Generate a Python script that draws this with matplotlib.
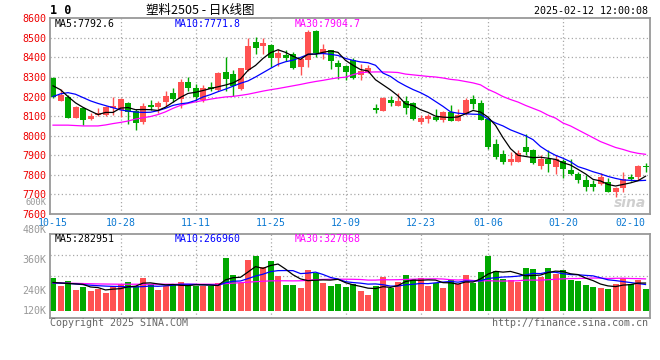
import numpy as np
import matplotlib
matplotlib.use("Agg")
import matplotlib.pyplot as plt

# ---- daily K-line data, 2024-10-15 .. 2025-02-12 (80 sessions) ----
open_ = [8296, 8178, 8200, 8090, 8141, 8087, 8105, 8107, 8140, 8132,
         8167, 8128, 8068, 8158, 8148, 8174, 8216, 8187, 8274, 8243,
         8185, 8250, 8235, 8325, 8315, 8238, 8336, 8477, 8460, 8463,
         8398, 8415, 8416, 8352, 8388, 8534, 8420, 8437, 8372, 8357,
         8386, 8308, 8325, 8143, 8128, 8182, 8153, 8177, 8168, 8071,
         8087, 8094, 8082, 8123, 8075, 8111, 8190, 8167, 8085, 7957,
         7906, 7868, 7867, 7940, 7927, 7847, 7881, 7842, 7871, 7826,
         7804, 7772, 7753, 7753, 7762, 7711, 7735, 7787, 7791, 7847]
high = [8300, 8240, 8210, 8153, 8145, 8115, 8140, 8150, 8197, 8195,
        8170, 8135, 8168, 8180, 8177, 8226, 8242, 8292, 8298, 8262,
        8260, 8275, 8325, 8403, 8335, 8348, 8500, 8505, 8500, 8468,
        8442, 8437, 8428, 8403, 8538, 8542, 8470, 8440, 8385, 8360,
        8398, 8368, 8360, 8162, 8198, 8204, 8220, 8203, 8170, 8105,
        8110, 8136, 8127, 8157, 8137, 8194, 8208, 8182, 8088, 7983,
        7927, 7915, 7927, 8008, 7932, 7901, 7927, 7901, 7882, 7881,
        7813, 7799, 7774, 7808, 7782, 7740, 7817, 7805, 7850, 7862]
low = [8195, 8175, 8088, 8088, 8057, 8080, 8100, 8100, 8105, 8098,
       8060, 8027, 8062, 8133, 8115, 8150, 8170, 8140, 8230, 8170,
       8172, 8228, 8230, 8228, 8203, 8234, 8332, 8418, 8420, 8352,
       8355, 8383, 8340, 8310, 8352, 8400, 8390, 8340, 8290, 8285,
       8290, 8285, 8320, 8115, 8126, 8153, 8150, 8110, 8078, 8058,
       8063, 8075, 8068, 8075, 8073, 8105, 8135, 8078, 7932, 7881,
       7855, 7850, 7864, 7900, 7855, 7830, 7816, 7806, 7782, 7799,
       7760, 7720, 7720, 7748, 7711, 7689, 7714, 7768, 7774, 7813]
close = [8199, 8209, 8090, 8149, 8078, 8103, 8118, 8146, 8150, 8187,
         8120, 8063, 8150, 8145, 8168, 8204, 8188, 8275, 8245, 8200,
         8245, 8238, 8322, 8292, 8252, 8345, 8458, 8447, 8473, 8395,
         8422, 8395, 8346, 8390, 8530, 8422, 8442, 8382, 8353, 8327,
         8296, 8330, 8348, 8130, 8195, 8168, 8177, 8143, 8087, 8090,
         8100, 8080, 8119, 8076, 8105, 8182, 8162, 8082, 7944, 7893,
         7868, 7881, 7913, 7915, 7862, 7881, 7854, 7881, 7830, 7804,
         7772, 7740, 7740, 7787, 7714, 7735, 7779, 7779, 7845, 7840]

# moving averages as drawn on the chart
ma5 = [8255, 8235, 8200, 8168, 8145, 8126, 8108, 8119, 8119, 8141,
       8144, 8133, 8134, 8133, 8129, 8146, 8171, 8196, 8216, 8222,
       8231, 8241, 8250, 8259, 8270, 8290, 8334, 8359, 8395, 8424,
       8439, 8426, 8406, 8390, 8417, 8417, 8426, 8433, 8426, 8385,
       8360, 8338, 8331, 8286, 8260, 8234, 8204, 8163, 8154, 8133,
       8119, 8100, 8095, 8093, 8096, 8112, 8129, 8121, 8095, 8053,
       7990, 7934, 7900, 7894, 7888, 7890, 7885, 7879, 7862, 7850,
       7828, 7805, 7777, 7769, 7751, 7743, 7751, 7759, 7770, 7793]
ma10 = [8200, 8214, 8220, 8212, 8195, 8178, 8165, 8154, 8143, 8132,
        8126, 8121, 8119, 8120, 8128, 8140, 8155, 8163, 8168, 8180,
        8198, 8210, 8225, 8238, 8253, 8268, 8280, 8300, 8322, 8344,
        8365, 8378, 8386, 8400, 8415, 8418, 8420, 8416, 8410, 8395,
        8385, 8377, 8373, 8360, 8320, 8303, 8276, 8255, 8236, 8220,
        8200, 8175, 8150, 8122, 8115, 8112, 8110, 8109, 8085, 8065,
        8050, 8030, 8015, 8000, 7980, 7945, 7920, 7900, 7885, 7867,
        7842, 7830, 7816, 7805, 7792, 7782, 7774, 7772, 7770, 7772]
ma30 = [8054, 8054, 8054, 8052, 8050, 8050, 8050, 8055, 8062, 8068,
        8075, 8085, 8092, 8098, 8108, 8122, 8140, 8155, 8165, 8173,
        8180, 8187, 8193, 8198, 8201, 8206, 8212, 8220, 8228, 8235,
        8241, 8248, 8255, 8262, 8270, 8277, 8283, 8290, 8296, 8299,
        8312, 8322, 8325, 8326, 8326, 8325, 8323, 8315, 8311, 8307,
        8303, 8300, 8295, 8288, 8284, 8277, 8270, 8260, 8237, 8220,
        8200, 8185, 8172, 8155, 8140, 8125, 8105, 8090, 8065, 8050,
        8030, 8010, 7990, 7970, 7955, 7940, 7930, 7918, 7910, 7905]

# volume, thousands of lots
volume = [338, 254, 305, 213, 247, 203, 220, 186, 254, 271,
          297, 254, 338, 271, 213, 254, 271, 297, 254, 254,
          254, 254, 281, 535, 365, 281, 518, 558, 444, 508,
          358, 264, 264, 237, 416, 383, 281, 254, 274, 247,
          274, 203, 162, 254, 342, 237, 297, 365, 325, 338,
          254, 287, 237, 315, 271, 365, 281, 399, 561, 409,
          325, 315, 297, 440, 426, 348, 440, 373, 416, 315,
          305, 264, 247, 237, 223, 271, 338, 271, 315, 223]
vma5 = [290, 285, 280, 275, 271, 244, 238, 214, 222, 227,
        246, 252, 283, 286, 275, 266, 269, 261, 258, 266,
        266, 263, 259, 316, 338, 343, 396, 451, 433, 462,
        477, 426, 368, 326, 308, 313, 316, 314, 322, 288,
        266, 250, 232, 228, 247, 240, 258, 299, 313, 312,
        316, 314, 288, 286, 273, 295, 294, 326, 375, 403,
        395, 402, 381, 357, 361, 365, 390, 405, 401, 378,
        370, 335, 309, 274, 255, 248, 263, 268, 284, 284]
vma10 = [285, 283, 280, 275, 268, 262, 257, 253, 250, 249,
         245, 245, 248, 254, 251, 256, 261, 272, 272, 270,
         266, 266, 260, 287, 302, 305, 329, 355, 374, 400,
         410, 411, 410, 380, 385, 395, 371, 341, 324, 298,
         289, 283, 273, 275, 267, 253, 254, 266, 271, 280,
         278, 286, 294, 300, 293, 305, 304, 307, 331, 338,
         345, 348, 354, 366, 382, 380, 396, 393, 379, 370,
         368, 362, 357, 337, 317, 309, 299, 289, 279, 269]
vma30 = [285, 284, 283, 281, 279, 277, 275, 274, 273, 272,
         272, 272, 272, 272, 272, 272, 272, 272, 272, 272,
         272, 272, 272, 278, 283, 288, 293, 298, 302, 306,
         307, 307, 306, 307, 312, 318, 321, 323, 323, 323,
         322, 320, 314, 314, 318, 317, 318, 321, 323, 326,
         326, 327, 325, 318, 315, 318, 310, 305, 308, 305,
         304, 306, 307, 314, 314, 313, 318, 322, 327, 329,
         330, 332, 335, 334, 330, 332, 333, 330, 329, 326]

date_labels = ['10-15', '10-28', '11-11', '11-25', '12-09',
               '12-23', '01-06', '01-20', '02-10']
date_pos = [0, 9, 19, 29, 39, 49, 58, 68, 77]
price_ticks = [7600, 7700, 7800, 7900, 8000, 8100, 8200, 8300, 8400, 8500, 8600]
vol_labels = ['600K', '480K', '360K', '240K', '120K']
vol_label_y = [202.6, 230, 260, 291, 311]   # where sina prints them (px)

RED = '#ff5252'
GREEN = '#00a800'
GRID = '#a8a8a8'
BORDER = '#999999'
MONO = 'DejaVu Sans Mono'

W, H = 660, 360


def fx(px):
    return px / W


def fy(py):
    return 1 - py / H


fig = plt.figure(figsize=(6.6, 3.6), dpi=100)
fig.patch.set_facecolor('white')

ax = fig.add_axes([fx(50), fy(214), 600 / W, (214 - 18.3) / H])
axv = fig.add_axes([fx(50), fy(318.3), 600 / W, (318.3 - 234.3) / H])

o = np.array(open_)
c = np.array(close)
x = np.arange(len(c))
colors = np.where(c >= o, RED, GREEN)

# candles
ax.vlines(x, low, high, colors=colors, lw=1, zorder=2)
ax.bar(x, np.maximum(np.abs(c - o), 4), 0.8, bottom=np.minimum(o, c),
       color=colors, linewidth=0, zorder=2)
ax.plot(x, ma30, color='#ff00ff', lw=0.9, zorder=3)
ax.plot(x, ma10, color='#0000ff', lw=0.9, zorder=3)
ax.plot(x, ma5, color='black', lw=0.9, zorder=3)

ax.set_xlim(-0.4, 79.6)
ax.set_ylim(7600, 8600)
for v in price_ticks[1:-1]:
    ax.axhline(v, color=GRID, lw=0.9, ls=(0, (1, 2)), zorder=1)
for p in date_pos[1:-1]:
    ax.axvline(p, color=GRID, lw=0.9, ls=(0, (1, 2)), zorder=1)
    axv.axvline(p, color=GRID, lw=0.9, ls=(0, (1, 2)), zorder=1)

ax.set_yticks(price_ticks)
ax.set_yticklabels([str(t) for t in price_ticks], color='#ee0000',
                   fontfamily=MONO, fontsize=7.2)
ax.set_xticks(date_pos)
ax.set_xticklabels(date_labels, color='#0a78d2', fontfamily=MONO, fontsize=7.1)
ax.tick_params(axis='both', length=0)
ax.tick_params(axis='y', pad=2.6)
ax.tick_params(axis='x', pad=2.6)

# volume
axv.bar(x, volume, 0.8, color=colors, linewidth=0, zorder=2)
axv.plot(x, vma30, color='#ff00ff', lw=0.9, zorder=3)
axv.plot(x, vma10, color='#0000ff', lw=0.9, zorder=3)
axv.plot(x, vma5, color='black', lw=0.9, zorder=3)
axv.set_xlim(-0.4, 79.6)
axv.set_ylim(-74, 779)
axv.set_xticks([])
axv.set_yticks([])
for f in (0.25, 0.5, 0.75):
    axv.plot([0, 1], [f, f], transform=axv.transAxes, color=GRID, lw=0.9,
             ls=(0, (1, 2)), zorder=1)

for a in (ax, axv):
    for s in a.spines.values():
        s.set_color(BORDER)
        s.set_linewidth(1.3)

for lab, py in zip(vol_labels, vol_label_y):
    size = 6.2 if lab == '600K' else 7.2
    fig.text(fx(46.7), fy(py), lab, ha='right', va='center', color='#999999',
             fontfamily=MONO, fontsize=size)

# header
fig.text(fx(50), fy(10.5), '1 0', ha='left', va='center', fontfamily=MONO,
         fontweight='bold', fontsize=8.5)
fig.text(fx(200), fy(10.5), '塑料2505 - 日K线图', ha='center', va='center',
         fontfamily=['Noto Sans CJK SC', 'DejaVu Sans'], fontsize=9)
fig.text(fx(648), fy(10.5), '2025-02-12 12:00:08', ha='right', va='center',
         fontfamily=MONO, fontsize=7.2)

# MA legends
fig.text(fx(55), fy(23.7), 'MA5:7792.6', color='black', va='center',
         fontfamily=MONO, fontsize=7.1)
fig.text(fx(175), fy(23.7), 'MA10:7771.8', color='#0000ff', va='center',
         fontfamily=MONO, fontsize=7.1)
fig.text(fx(295), fy(23.7), 'MA30:7904.7', color='#ff00ff', va='center',
         fontfamily=MONO, fontsize=7.1)
fig.text(fx(55), fy(239), 'MA5:282951', color='black', va='center',
         fontfamily=MONO, fontsize=7.1)
fig.text(fx(175), fy(239), 'MA10:266960', color='#0000ff', va='center',
         fontfamily=MONO, fontsize=7.1)
fig.text(fx(295), fy(239), 'MA30:327068', color='#ff00ff', va='center',
         fontfamily=MONO, fontsize=7.1)

# footer and watermark
fig.text(fx(50), fy(323.5), 'Copyright 2025 SINA.COM', color='#666666',
         va='center', fontfamily=MONO, fontsize=7.2)
fig.text(fx(648), fy(323.5), 'http://finance.sina.com.cn', color='#666666',
         ha='right', va='center', fontfamily=MONO, fontsize=7.2)
fig.text(fx(630), fy(203), 'sina', color='#cfcfcf', ha='center', va='center',
         fontstyle='italic', fontweight='bold', fontsize=10)

fig.savefig('out.png', dpi=100, facecolor='white')
